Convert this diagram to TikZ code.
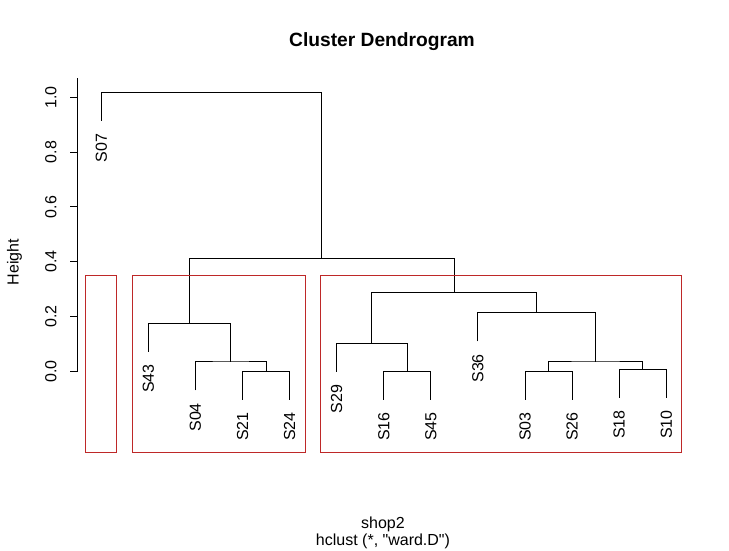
\documentclass[tikz,border=0pt]{standalone}
\usepackage{fontspec}
\setmainfont{Liberation Sans}
\definecolor{boxred}{RGB}{190,40,40}
\tikzset{
  dendro/.style={line width=1pt, line join=miter},
  clusterbox/.style={draw=boxred, line width=1pt},
  plaintext/.style={inner sep=0pt, font=\fontsize{16}{19}\selectfont},
  leaflabel/.style={plaintext, rotate=90, anchor=east},
  ticklabel/.style={plaintext, rotate=90, anchor=south},
}

\begin{document}
\begin{tikzpicture}[x=1pt,y=-1pt]
  \useasboundingbox (0,0) rectangle (729,550);
  \node[plaintext, font=\bfseries\fontsize{19.2}{23}\selectfont, anchor=base] (title) at (382,46.7) {Cluster Dendrogram};
  \node[plaintext, anchor=base] (xlab) at (383,528.3) {shop2};
  \node[plaintext, anchor=base] (sub) at (383,545) {hclust (*, \textquotedbl ward.D\textquotedbl)};
  \node[plaintext, rotate=90, anchor=base] (ylab) at (18.5,262) {Height};
  \begin{scope}[shift={(54.2,371.3)}, x=47.08pt, y=274pt]
    % height axis
    \coordinate (ax0) at (0.5055,0);
    \coordinate (ax1) at (0.5055,1.07);
    \draw[dendro] (ax0) -- (ax1);
    \foreach \val [count=\k] in {0.0,0.2,0.4,0.6,0.8,1.0} {
      \coordinate (tick\k) at (0.5055,\val);
      \draw[dendro] (tick\k) -- ++(-8pt,0);
      \node[ticklabel] at ([xshift=-21.3pt]tick\k) {\val};
    }
    % leaves
    \foreach \lab/\i/\h in {S07/1/0.914,S43/2/0.072,S04/3/-0.070,S21/4/-0.103,S24/5/-0.103,S29/6/-0.002,S16/7/-0.103,S45/8/-0.103,S36/9/0.109,S03/10/-0.103,S26/11/-0.103,S18/12/-0.096,S10/13/-0.096} {
      \coordinate (\lab) at (\i,\h);
      \node[leaflabel] (n\lab) at ([yshift=-12.5pt]\lab) {\lab};
    }
    % merges
    \coordinate (m1) at (4.5,0.001);
    \coordinate (m2) at (3.75,0.034);
    \coordinate (m3) at (2.875,0.176);
    \coordinate (m4) at (7.5,0.001);
    \coordinate (m5) at (6.75,0.102);
    \coordinate (m6) at (10.5,0.001);
    \coordinate (m7) at (12.5,0.008);
    \coordinate (m8) at (11.5,0.034);
    \coordinate (m9) at (10.25,0.213);
    \coordinate (m10) at (8.5,0.288);
    \coordinate (m11) at (5.6875,0.412);
    \coordinate (m12) at (3.34,1.018);
    \foreach \a/\m/\b in {S21/m1/S24,S04/m2/m1,S43/m3/m2,S16/m4/S45,S29/m5/m4,S03/m6/S26,S18/m7/S10,m6/m8/m7,S36/m9/m8,m5/m10/m9,m3/m11/m10,S07/m12/m11}
      \draw[dendro] (\a) |- (\m) -| (\b);
    % clusters
    \foreach \l/\r in {0.66/1.33,1.66/5.33,5.66/13.33}
      \draw[clusterbox] (\l,-0.2956) rectangle (\r,0.35);
  \end{scope}
\end{tikzpicture}
\end{document}
